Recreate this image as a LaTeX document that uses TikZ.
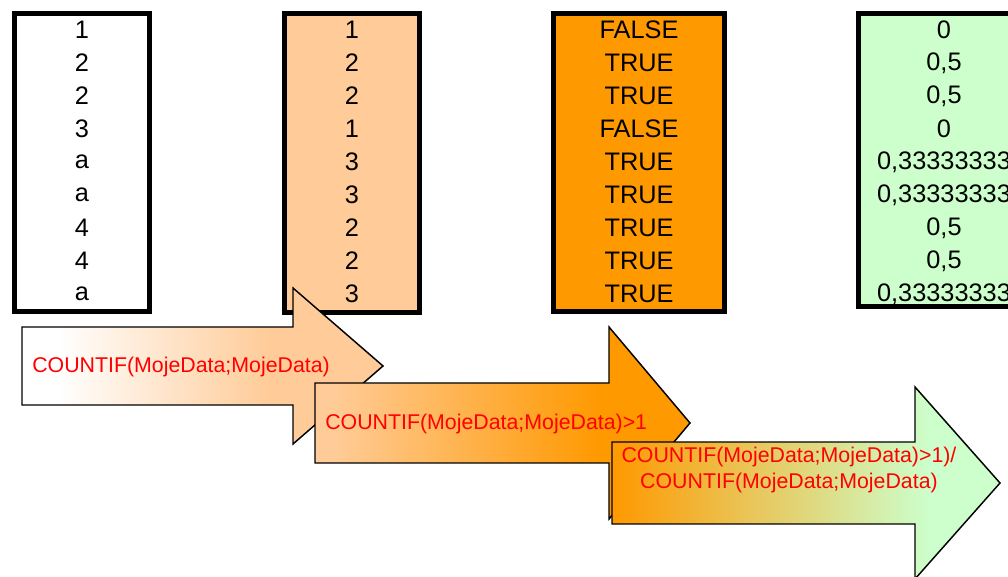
\documentclass[tikz,border=0pt]{standalone}
\usepackage{fontspec}
\setmainfont{Liberation Sans}
\definecolor{peach}{HTML}{FFCC99}
\definecolor{orng}{HTML}{FF9900}
\definecolor{lgreen}{HTML}{CCFFCC}
\definecolor{txtred}{HTML}{FF0000}
\pgfdeclarehorizontalshading{arrA}{100bp}{color(0bp)=(white); color(30bp)=(white); color(59bp)=(peach); color(100bp)=(peach)}
\pgfdeclarehorizontalshading{arrB}{100bp}{color(0bp)=(peach); color(27bp)=(peach); color(63bp)=(orng); color(100bp)=(orng)}
\pgfdeclarehorizontalshading{arrC}{100bp}{color(0bp)=(orng); color(25bp)=(orng); color(66bp)=(lgreen); color(100bp)=(lgreen)}
\begin{document}
\begin{tikzpicture}[x=0.75pt,y=-0.75pt,
  colbox/.style={draw=black, line width=3.75pt},
  cell/.style={inner sep=0pt, font=\fontsize{19}{19}\selectfont, text=black, anchor=center},
  arrowshape/.style={draw=black, line width=1.1pt},
  lbl/.style={inner sep=0pt, font=\fontsize{16}{20}\selectfont, text=txtred}]
\useasboundingbox (0,0) rectangle (1008,577);
\clip (0,0) rectangle (1008,577);
% columns
\draw[colbox, fill=white]  (14.5,13.5) rectangle (149.5,311.5);
\draw[colbox, fill=peach]  (284.5,13.5) rectangle (419.5,312.5);
\draw[colbox, fill=orng]   (553.5,13.5) rectangle (724.5,311.5);
\draw[colbox, fill=lgreen] (858.5,13.5) rectangle (1032,306.5);
\foreach \t [count=\i] in {1,2,2,3,a,a,4,4,a}
  \node[cell] (a\i) at (82,{30+33*(\i-1)}) {\t};
\foreach \t [count=\i] in {1,2,2,1,3,3,2,2,3}
  \node[cell] (b\i) at (352,{30+33*(\i-1)}) {\t};
\foreach \t [count=\i] in {FALSE,TRUE,TRUE,FALSE,TRUE,TRUE,TRUE,TRUE,TRUE}
  \node[cell] (c\i) at (639,{30+33*(\i-1)}) {\t};
\foreach \t [count=\i] in {0,{0,5},{0,5},0,{0,33333333},{0,33333333},{0,5},{0,5},{0,33333333}}
  \node[cell] (d\i) at (944,{30+33*(\i-1)}) {\t};
% arrows
\shadedraw[arrowshape, shading=arrA] (22,327) -- (293,327) -- (293,288) -- (383,366) -- (293,444) -- (293,405) -- (22,405) -- cycle;
\node[lbl, anchor=west] (l1) at (32,367) {COUNTIF(MojeData;MojeData)};
\shadedraw[arrowshape, shading=arrB] (315,383) -- (609,383) -- (609,327) -- (690,423) -- (609,519) -- (609,463) -- (315,463) -- cycle;
\node[lbl, anchor=west] (l2) at (325,424) {COUNTIF(MojeData;MojeData)>1};
\shadedraw[arrowshape, shading=arrC] (612,442) -- (915,442) -- (915,387) -- (1000,483) -- (915,579) -- (915,524) -- (612,524) -- cycle;
\node[lbl, align=center] (l3) at (789,470) {COUNTIF(MojeData;MojeData)>1)/\\COUNTIF(MojeData;MojeData)};
\end{tikzpicture}
\end{document}
